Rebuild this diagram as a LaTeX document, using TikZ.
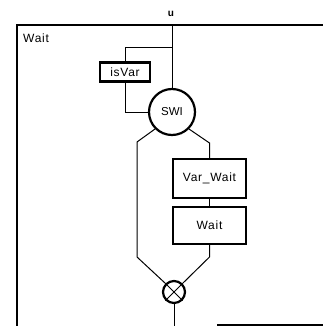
\documentclass[tikz,border=0pt]{standalone}
\usepackage{fontspec}
\setmainfont{Liberation Sans}
\newfontfamily\lsp[LetterSpace=6]{Liberation Sans}
\begin{document}
\begin{tikzpicture}[x=1pt,y=-1pt,
  frameline/.style={line width=2pt},
  conn/.style={line width=1pt},
  blockbox/.style={draw,rectangle,line width=2.4pt,inner sep=0pt,font=\fontsize{12}{14}\selectfont\lsp},
  swi/.style={draw,circle,line width=2.2pt,inner sep=0pt,minimum size=46pt,font=\fontsize{11.5}{13}\selectfont},
  joinnode/.style={draw,circle,line width=2.2pt,inner sep=0pt,minimum size=22pt},
  lbl/.style={inner sep=0pt,font=\fontsize{12}{14}\selectfont\lsp}]
\useasboundingbox (0,0) rectangle (323,326);
% frame
\draw[frameline] (17,326) -- (17,25) -- (323,25);
\draw[frameline] (217,325) -- (323,325);
\node[lbl,anchor=north west] (title) at (23,34) {Wait};
\node[inner sep=0pt,font=\fontsize{10}{12}\selectfont\bfseries] (ulab) at (171,14) {u};
% nodes
\coordinate (top) at (172,25);
\coordinate (j) at (172,48);
\node[swi] (swi) at (172,112) {SWI};
\node[blockbox,minimum width=50pt,minimum height=19pt] (isvar) at (125,72) {isVar};
\node[blockbox,minimum width=73.5pt,minimum height=39pt] (varwait) at (209.5,178.5) {Var\_Wait};
\node[blockbox,minimum width=73.5pt,minimum height=37pt] (wait) at (209.5,225.5) {Wait};
\node[joinnode] (x) at (174,292) {};
\draw[conn] (x.north west) -- (x.south east) (x.north east) -- (x.south west);
\coordinate (lb1) at (137,142);
\coordinate (lb2) at (137,257);
\coordinate (rb1) at (209.5,143);
\coordinate (rb2) at (209.5,257);
\coordinate (bot) at (174,326);
% connectors
\draw[conn] (top) -- (swi.north);
\draw[conn] (j) -| (isvar.north);
\draw[conn] (isvar.south) |- (swi.west);
\draw[conn] (swi.south west) -- (lb1) -- (lb2) -- (x.north west);
\draw[conn] (swi.south east) -- (rb1) -- (varwait.north);
\draw[conn] (varwait.south) -- (wait.north);
\draw[conn] (wait.south) -- (rb2) -- (x.north east);
\draw[conn] (x.south) -- (bot);
\end{tikzpicture}
\end{document}
